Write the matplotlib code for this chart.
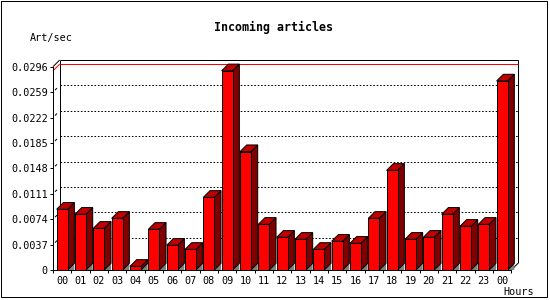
import numpy as np
import matplotlib
matplotlib.use('Agg')
import matplotlib.pyplot as plt
from matplotlib.patches import Polygon, Rectangle

# Data
hours = ['00', '01', '02', '03', '04', '05', '06', '07', '08', '09', '10', '11',
         '12', '13', '14', '15', '16', '17', '18', '19', '20', '21', '22', '23', '00']
articles = [0.00884, 0.00811, 0.00607, 0.00752, 0.00053, 0.00592, 0.0036, 0.0030,
            0.01058, 0.0290, 0.01723, 0.00665, 0.00476, 0.00447, 0.0030, 0.00418,
            0.00389, 0.00752, 0.01451, 0.00447, 0.00476, 0.00811, 0.00636, 0.00665,
            0.02752]
y_ticks = [0, 0.0037, 0.0074, 0.0111, 0.0148, 0.0185, 0.0222, 0.0259, 0.0296]

W, H = 550, 300
fig = plt.figure(figsize=(W / 100, H / 100), dpi=100)
fig.patch.set_facecolor('white')

# front plane of the 3d box, in pixels
x0, x1 = 53, 511.3
y0, y1 = 270, 66.7
ax = fig.add_axes([x0 / W, 1 - y0 / H, (x1 - x0) / W, (y0 - y1) / H])
n = len(articles)
ymax = y_ticks[-1]
ax.set_xlim(0, n)
ax.set_ylim(0, ymax)
ax.set_facecolor('none')

depth = 6.7  # pixels to the right and up


def back(x, y):
    # move a data point back by the 3d depth
    px, py = ax.transData.transform((x, y))
    return tuple(ax.transData.inverted().transform((px + depth, py + depth)))


def seg(p, q, **kw):
    ax.plot([p[0], q[0]], [p[1], q[1]], clip_on=False, solid_capstyle='butt', **kw)


lw = 0.72
fontm = 'DejaVu Sans Mono'

# back wall
for v in y_ticks[1:-1]:
    ax.plot(*zip(back(0, v), back(n, v)), color='black', lw=lw, clip_on=False,
            dashes=(1.6, 1.8), zorder=1)
seg(back(0, ymax), back(n, ymax), color='black', lw=lw, zorder=2)
seg(back(0, 0), back(0, ymax), color='black', lw=lw, zorder=2)
seg(back(n, 0), back(n, ymax), color='black', lw=lw, zorder=2)
seg((0, ymax), back(0, ymax), color='black', lw=lw, zorder=2)
seg((n, 0), back(n, 0), color='black', lw=lw, zorder=2)
# little marks on the side wall
for v in y_ticks[1:-1]:
    p, q = (0, v), back(0, v)
    a = (p[0] + 0.3 * (q[0] - p[0]), p[1] + 0.3 * (q[1] - p[1]))
    b = (p[0] + 0.6 * (q[0] - p[0]), p[1] + 0.6 * (q[1] - p[1]))
    seg(a, b, color='black', lw=lw, zorder=2)

# max line
vmax = max(articles)
seg(back(0, vmax), back(n, vmax), color='red', lw=lw, zorder=2)
seg((0, vmax), back(0, vmax), color='red', lw=lw, zorder=2)

# bars
bw = 0.6
for i, v in enumerate(articles):
    l, r = i + 0.2, i + 0.2 + bw
    br0 = back(r, 0)
    ax.add_patch(Polygon([(r, 0), br0, (br0[0], 0)], closed=True, facecolor='#808080',
                         edgecolor='none', clip_on=False, zorder=3))
    ax.add_patch(Polygon([(r, 0), (r, v), back(r, v), br0], closed=True,
                         facecolor='#800000', edgecolor='black', lw=lw, clip_on=False, zorder=4))
    ax.add_patch(Polygon([(l, v), (r, v), back(r, v), back(l, v)], closed=True,
                         facecolor='#c00000', edgecolor='black', lw=lw, clip_on=False, zorder=4))
    ax.add_patch(Rectangle((l, 0), bw, v, facecolor='#ff0000', edgecolor='black',
                           lw=lw, clip_on=False, zorder=5))

# axes and ticks
for s in ['top', 'right']:
    ax.spines[s].set_visible(False)
for s in ['left', 'bottom']:
    ax.spines[s].set_linewidth(lw)
    ax.spines[s].set_zorder(6)
ax.set_yticks(y_ticks)
ax.set_yticklabels(['0'] + ['%.4f' % v for v in y_ticks[1:]], fontfamily=fontm, fontsize=7.3)
ax.tick_params(axis='y', length=2.2, width=lw, pad=1.5)
ax.set_xticks(np.arange(n + 1))
ax.set_xticklabels([])
ax.set_xticks(np.arange(n) + 0.5, minor=True)
ax.set_xticklabels(hours, minor=True, fontfamily=fontm, fontsize=7.3)
ax.tick_params(axis='x', which='major', length=2.5, width=lw)
ax.tick_params(axis='x', which='minor', length=0, pad=4)

# texts
fig.text(274 / W, 1 - 27.5 / H, 'Incoming articles', ha='center', va='center',
         fontfamily=fontm, fontweight='bold', fontsize=8.4)
fig.text(30 / W, 1 - 37.5 / H, 'Art/sec', ha='left', va='center', fontfamily=fontm, fontsize=7.3)
fig.text(534 / W, 1 - 292 / H, 'Hours', ha='right', va='center', fontfamily=fontm, fontsize=7.3)

# frame around the picture
fig.add_artist(Rectangle((0.5 / W, 1 - 297 / H), 546.5 / W, 296.5 / H, transform=fig.transFigure,
                         facecolor='none', edgecolor='black', lw=lw))

fig.savefig('out.png', dpi=100)
